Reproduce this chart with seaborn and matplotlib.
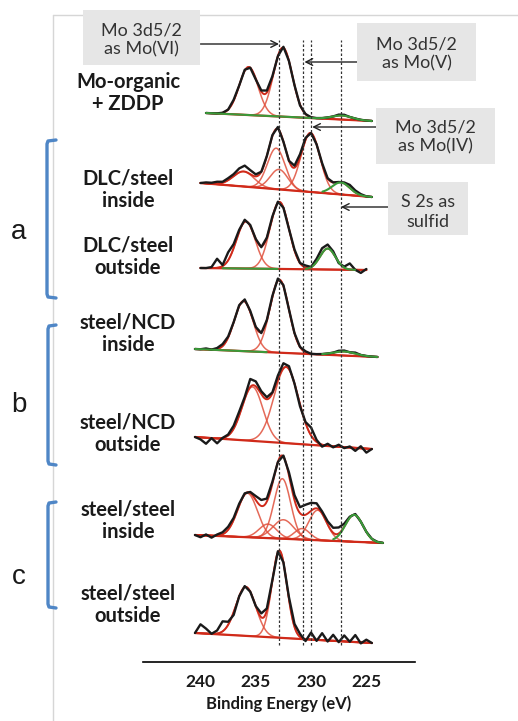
import numpy as np
import matplotlib
matplotlib.use('Agg')
import matplotlib.pyplot as plt
import matplotlib.patches as patches
from matplotlib.lines import Line2D
import seaborn as sns

# ── Figure geometry (pixels) ───────────────────────────────────────────────────
W, H = 518, 721

# ── Data: XPS Mo 3d / S 2s region, intensities in plot units ──────────────────
REF_LINES = [232.9, 230.7, 230.0, 227.3]
TICKS = [240, 235, 230, 225]

SAMPLES = ['Mo-organic\n+ ZDDP', 'DLC/steel\ninside', 'DLC/steel\noutside',
           'steel/NCD\ninside', 'steel/NCD\noutside', 'steel/steel\ninside',
           'steel/steel\noutside']

# energy range (high, low)
S1_RANGE = (239.5, 224.5)
S2_RANGE = (240.0, 224.5)
S3_RANGE = (240.0, 225.0)
S4_RANGE = (240.5, 224.0)
S5_RANGE = (240.5, 224.5)
S6_RANGE = (240.5, 223.5)
S7_RANGE = (240.5, 224.5)

# background at the two ends
S1_BASE = (549, 541)
S2_BASE = (479, 465)
S3_BASE = (394, 392)
S4_BASE = (313, 305)
S5_BASE = (225, 213)
S6_BASE = (127, 119)
S7_BASE = (29, 19)

# Mo fit components (centre eV, height, sigma eV)
S1_PEAKS = [(235.65, 48, 0.85), (232.55, 69, 0.85)]
S2_PEAKS = [(236.1, 15, 0.95), (233.15, 41, 0.8), (232.9, 20, 0.8), (230.05, 59, 0.85)]
S3_PEAKS = [(235.9, 47, 0.85), (232.86, 67, 0.85)]
S4_PEAKS = [(236.1, 50, 0.85), (232.86, 73, 0.85)]
S5_PEAKS = [(235.3, 54, 0.95), (232.25, 76, 1.1)]
S6_PEAKS = [(235.75, 44, 0.9), (233.9, 14, 0.8), (232.6, 60, 0.75), (232.5, 19, 0.95),
            (230.8, 11, 0.7), (229.4, 30, 0.8)]
S7_PEAKS = [(235.9, 49, 0.9), (232.86, 87, 0.68)]

# S 2s component (green)
S1_SULF = (227.2, 4, 0.9)
S2_SULF = (227.3, 12, 0.8)
S3_SULF = (228.5, 21, 0.7)
S4_SULF = (227.0, 4, 1.0)
S5_SULF = None
S6_SULF = (226.1, 27, 0.8)
S7_SULF = None

# where the green trace is visible
S1_GREEN = [(239.5, 224.5)]
S2_GREEN = [(229.0, 224.5)]
S3_GREEN = [(238.0, 233.0), (230.5, 226.0)]
S4_GREEN = [(240.5, 234.0), (229.0, 224.0)]
S5_GREEN = []
S6_GREEN = [(228.0, 223.5)]
S7_GREEN = []

# measured minus fit, every 0.5 eV from the high-energy end
S1_NOISE = [0, 0, 0, 0, 0, 1, 0, 1, 0, -1, 1, 2, 1, 0, 1, 0, 0, -1, 0, 0, 0, 0, 0, 0,
            1, 1, 0, 0, 0, 0, 0]
S2_NOISE = [0, 1, 1, 2, 1, 2, 2, 4, 6, 4, 2, 0, 0, 1, 2, 0, 0, 2, 3, 2, 0, 0, 1, 0,
            0, 0, 1, 3, 2, 1, 0, 0]
S3_NOISE = [0, 0, 1, 9, 1, 8, 4, 2, 2, 1, 0, -1, 0, 1, 1, 0, 0, 1, 0, 2, 0, 3, 5, 4,
            2, -1, 1, 6, 0, -3, 1]
S4_NOISE = [0, 0, 1, 0, 1, 2, 1, 0, 1, 2, 1, 0, -1, 0, 1, 2, 1, 0, 0, 0, 1, 0, 0, 0,
            0, 0, 1, 1, 0, 1, 0, 0, 0, 0]
S5_NOISE = [0, -2, -6, 0, -5, 0, 1, 3, 4, 2, 8, 5, 3, 2, 1, 4, 5, 3, 0, -2, 1, 8, 2, -2,
            2, -1, 2, -1, 1, -3, 2, -4, 0]
S6_NOISE = [0, -2, 1, -2, 1, 2, 3, 2, 2, 1, 1, 4, 6, 3, 2, 0, 1, 3, 5, 6, 10, 8, 5, 2,
            3, 5, 6, 3, 1, 1, 0, 0, 0, 0, 0]
S7_NOISE = [0, 9, 5, 0, 3, 10, 3, -3, 0, 1, 0, 0, 4, 2, 0, 1, 0, 2, 3, 3, -2, 7, -1, 7,
            -1, 6, -1, 6, 0, 7, -1, 3, 0]

# ── Colours ───────────────────────────────────────────────────────────────────
C_COMP = '#e0503c'
C_FIT = '#d02a1a'
C_DATA = '#1a1a1a'
C_GREEN = '#3a9a3a'
C_BRACKET = '#4f86c6'
C_BOX = '#e6e6e6'
C_FRAME = '#d6d6d6'

sns.set_theme(style='white')
plt.rcParams['font.family'] = ['Lato', 'DejaVu Sans']


def gauss(e, c, h, s):
    return h * np.exp(-(e - c) ** 2 / (2 * s ** 2))


def fx(x):
    return x / W


def fy(y):
    return 1 - y / H


def draw_spectrum(ax, rng, base, peaks, sulf, green, noise):
    hi, lo = rng
    e = np.linspace(hi, lo, 500)
    bg = base[0] + (base[1] - base[0]) * (hi - e) / (hi - lo)
    env = bg.copy()
    for c, h, s in peaks:
        comp = gauss(e, c, h, s)
        env += comp
        ax.plot(e, bg + comp, color=C_COMP, lw=1.1, alpha=0.85, zorder=2)
    if sulf is not None:
        scomp = gauss(e, *sulf)
        env += scomp
    else:
        scomp = np.zeros_like(e)
    ax.plot(e, bg, color=C_FIT, lw=1.6, zorder=2)
    ax.plot(e, env, color=C_FIT, lw=1.4, zorder=3)
    for a, b in green:
        m = (e <= a) & (e >= b)
        ax.plot(e[m], (bg + scomp)[m], color=C_GREEN, lw=1.5, zorder=4.5)

    # measured trace
    eg = hi - 0.5 * np.arange(len(noise))
    bgg = base[0] + (base[1] - base[0]) * (hi - eg) / (hi - lo)
    yg = bgg + np.array(noise, dtype=float)
    for c, h, s in peaks:
        yg += gauss(eg, c, h, s)
    if sulf is not None:
        yg += gauss(eg, *sulf)
    sns.lineplot(x=eg, y=yg, ax=ax, color=C_DATA, lw=1.7, sort=False,
                 estimator=None, zorder=4)


fig = plt.figure(figsize=(W / 100, H / 100), dpi=100)
fig.patch.set_facecolor('white')

# light frame around the panel
fig.add_artist(Line2D([fx(53), fx(518)], [fy(15), fy(15)], color=C_FRAME, lw=1.0))
fig.add_artist(Line2D([fx(53), fx(53)], [fy(15), fy(721)], color=C_FRAME, lw=1.0))

ax = fig.add_axes([fx(143), 1 - 662 / H, (415 - 143) / W, (662 - 15) / H])
ax.set_facecolor('none')
ax.set_xlim(245.2, 220.6)
ax.set_ylim(0, 647)

spectra = [
    (S1_RANGE, S1_BASE, S1_PEAKS, S1_SULF, S1_GREEN, S1_NOISE),
    (S2_RANGE, S2_BASE, S2_PEAKS, S2_SULF, S2_GREEN, S2_NOISE),
    (S3_RANGE, S3_BASE, S3_PEAKS, S3_SULF, S3_GREEN, S3_NOISE),
    (S4_RANGE, S4_BASE, S4_PEAKS, S4_SULF, S4_GREEN, S4_NOISE),
    (S5_RANGE, S5_BASE, S5_PEAKS, S5_SULF, S5_GREEN, S5_NOISE),
    (S6_RANGE, S6_BASE, S6_PEAKS, S6_SULF, S6_GREEN, S6_NOISE),
    (S7_RANGE, S7_BASE, S7_PEAKS, S7_SULF, S7_GREEN, S7_NOISE),
]
for sp in spectra:
    draw_spectrum(ax, *sp)

for x in REF_LINES:
    ax.plot([x, x], [17, 622], color='#333333', lw=0.9, ls=(0, (2.0, 1.6)), zorder=5)

# axis styling
for side in ['top', 'right', 'left']:
    ax.spines[side].set_visible(False)
ax.spines['bottom'].set_color('black')
ax.spines['bottom'].set_linewidth(1.2)
ax.set_yticks([])
ax.set_xticks(TICKS)
ax.set_xticklabels([str(t) for t in TICKS], fontsize=12.5, fontweight='bold')
ax.tick_params(axis='x', direction='inout', length=9, width=1.2, color='black',
               pad=4, labelcolor='#1a1a1a')
ax.set_xlabel('Binding Energy (eV)', fontsize=12, fontweight='bold', labelpad=4,
              color='#1a1a1a')

# sample labels
LABEL_Y = [93, 190, 257, 334, 434, 521, 605]
for txt, y in zip(SAMPLES, LABEL_Y):
    fig.text(fx(128), fy(y), txt, ha='center', va='center', fontsize=14.5,
             fontweight='bold', linespacing=1.15, color='#1a1a1a')

# group brackets
BRACKETS = [('a', 140, 298, 47, 232), ('b', 325, 465, 48, 405), ('c', 502, 608, 48, 577)]
for letter, top, bot, xb, ly in BRACKETS:
    fig.add_artist(Line2D([fx(56), fx(xb + 1), fx(xb), fx(xb), fx(xb + 1), fx(56)],
                          [fy(top), fy(top + 1), fy(top + 4), fy(bot - 4), fy(bot - 1), fy(bot)],
                          color=C_BRACKET, lw=2.4, solid_capstyle='round'))
    fig.text(fx(19), fy(ly), letter, ha='center', va='center', fontsize=20,
             family=['Liberation Sans', 'DejaVu Sans'], color='#1a1a1a')

# annotation boxes (x0, y0, x1, y1, text centre y)
BOXES = [('Mo 3d5/2\nas Mo(VI)', 83, 10, 200, 65, 40),
         ('Mo 3d5/2\nas Mo(V)', 357, 23, 476, 81, 54),
         ('Mo 3d5/2\nas Mo(IV)', 376, 108, 495, 164, 137),
         ('S 2s as\nsulfid', 388, 182, 468, 235, 212)]
for txt, x0, y0, x1, y1, ty in BOXES:
    fig.add_artist(patches.Rectangle((fx(x0), fy(y1)), (x1 - x0) / W, (y1 - y0) / H,
                                     transform=fig.transFigure, facecolor=C_BOX,
                                     edgecolor='none', zorder=6))
    fig.text(fx((x0 + x1) / 2), fy(ty), txt, ha='center', va='center', fontsize=13,
             linespacing=1.25, color='#333333', zorder=7)

# arrows: (tail eV, head eV, height)
ARROWS = [(240.0, 232.9, 618), (225.8, 230.6, 600), (224.0, 229.9, 535), (223.0, 227.3, 455)]
for e0, e1, y in ARROWS:
    ax.annotate('', xy=(e1, y), xytext=(e0, y), annotation_clip=False,
                arrowprops=dict(arrowstyle='->', color='#222222', lw=1.0,
                                shrinkA=0, shrinkB=0, mutation_scale=12), zorder=6)

fig.savefig('out.png', dpi=100)
